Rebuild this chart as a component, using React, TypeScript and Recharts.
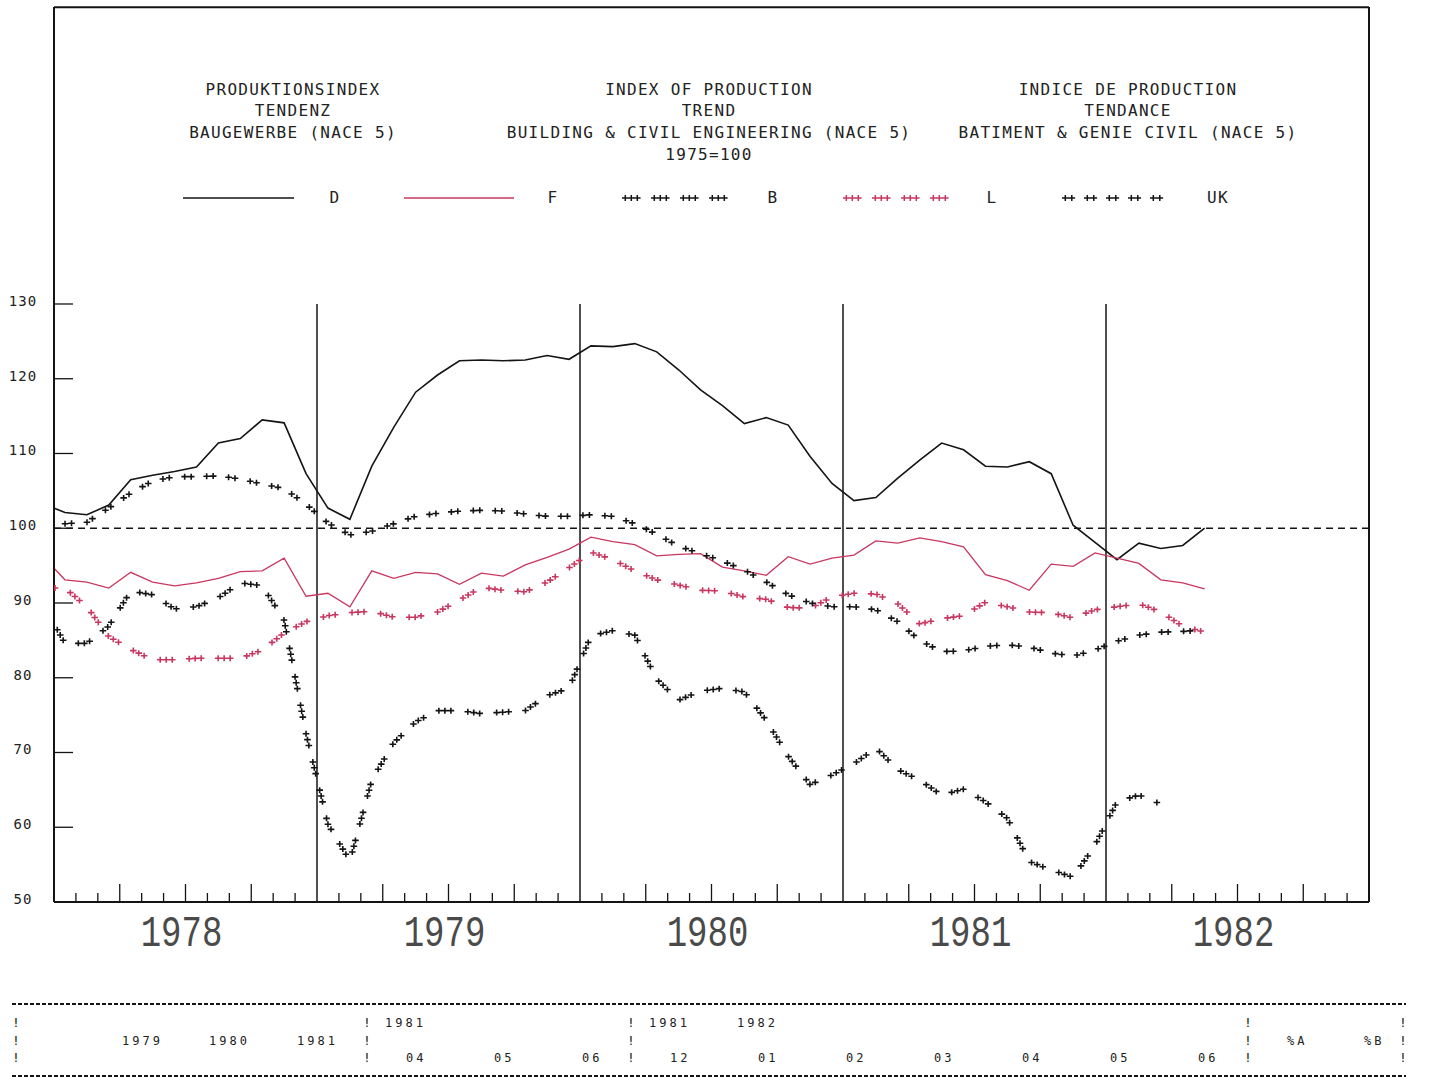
import React from 'react';
import { LineChart, Line, XAxis, YAxis, ReferenceLine, Legend } from 'recharts';

// ---------- data (monthly, Dec 1977 .. May 1982; plotted at mid-month) ----------
const D_INDEX = [
  103.3, 102.1, 101.8, 103.1, 106.5, 107.1, 107.6, 108.2, 111.4, 112.0, 114.5, 114.1, 107.3,
  102.7, 101.2, 108.3, 113.5, 118.2, 120.5, 122.4, 122.5, 122.4, 122.5, 123.1, 122.6,
  124.4, 124.3, 124.7, 123.6, 121.2, 118.5, 116.4, 114.0, 114.8, 113.8, 109.6, 106.0,
  103.7, 104.1, 106.7, 109.1, 111.4, 110.5, 108.3, 108.2, 108.9, 107.3, 100.4, 98.1,
  95.8, 98.0, 97.3, 97.7, 100.0,
];
const F_INDEX = [
  96.2, 93.1, 92.8, 92.0, 94.1, 92.8, 92.3, 92.7, 93.3, 94.2, 94.3, 96.0, 90.9,
  91.3, 89.5, 94.3, 93.3, 94.1, 93.9, 92.5, 94.0, 93.6, 95.1, 96.1, 97.2,
  98.8, 98.2, 97.8, 96.3, 96.5, 96.6, 94.8, 94.3, 93.7, 96.2, 95.2, 96.0,
  96.4, 98.3, 98.0, 98.7, 98.2, 97.5, 93.8, 93.0, 91.7, 95.2, 94.9, 96.7,
  96.0, 95.3, 93.1, 92.7, 91.9,
];
const B_INDEX = [
  89.8, 84.6, 84.6, 86.9, 91.6, 91.1, 89.2, 89.5, 90.7, 92.7, 92.3, 87.7, 72.5,
  60.4, 55.5, 66.3, 71.3, 74.1, 75.6, 75.6, 75.2, 75.4, 75.6, 77.6, 78.6,
  85.6, 86.3, 85.7, 79.8, 77.0, 78.2, 78.6, 78.1, 74.3, 69.5, 65.7, 67.0,
  68.5, 70.6, 67.7, 66.3, 64.3, 65.1, 63.4, 61.2, 55.4, 54.3, 53.3, 57.6,
  63.4, 64.3, 63.1,
];
const L_INDEX = [
  92.0, 92.0, 89.5, 85.5, 83.8, 82.4, 82.4, 82.6, 82.6, 82.6, 83.7, 86.0, 87.5,
  88.3, 88.7, 88.9, 88.1, 88.1, 88.8, 90.4, 92.1, 91.7, 91.5, 92.8, 94.7,
  96.8, 95.8, 94.3, 93.1, 92.4, 91.7, 91.6, 90.8, 90.5, 89.4, 89.3, 90.8,
  91.3, 91.2, 89.9, 87.2, 87.9, 88.3, 90.1, 89.5, 88.8, 88.7, 88.0, 89.1,
  89.5, 89.9, 88.8, 86.9, 86.1,
];
const UK_INDEX = [
  100.6, 100.6, 100.8, 102.7, 104.7, 106.3, 106.9, 106.9, 107.0, 106.6, 105.9, 105.3, 103.2,
  100.7, 99.1, 99.6, 100.6, 101.6, 102.0, 102.3, 102.4, 102.3, 101.9, 101.6, 101.6,
  101.8, 101.6, 100.6, 99.2, 97.6, 96.6, 95.6, 94.4, 92.8, 91.1, 90.0, 89.5,
  89.5, 89.1, 87.5, 85.0, 83.5, 83.6, 84.2, 84.4, 84.1, 83.3, 82.9, 83.7,
  84.9, 85.7, 86.1, 86.2, 86.4,
];

// x position of each month (months since Jan 1978, mid-month), first entry = Dec 1977
const MONTH_POS = D_INDEX.map((_, i) => i - 0.5);
const YEARS = ['1978', '1979', '1980', '1981', '1982'];
const YEAR_BOUNDARIES = [12, 24, 36, 48];
const MONTH_TICKS = Array.from({ length: 59 }, (_, i) => i + 1);
const Y_TICKS = [50, 60, 70, 80, 90, 100, 110, 120, 130];
const Y_DOMAIN: [number, number] = [50, 169.73];

const SERIES = [
  { key: 'D', values: D_INDEX },
  { key: 'F', values: F_INDEX },
  { key: 'B', values: B_INDEX },
  { key: 'L', values: L_INDEX },
  { key: 'UK', values: UK_INDEX },
];

const TABLE_DATA = MONTH_POS.map((m, i) => {
  const row: Record<string, number | undefined> = { m };
  SERIES.forEach((s) => {
    row[s.key] = s.values[i];
  });
  return row;
});

// ---------- styles ----------
const BLACK = '#141414';
const RED = '#c8375f';
const FONT = '"DejaVu Sans Mono", monospace';
const YEAR_FONT = '"Liberation Mono", monospace';

const PATTERN_B = { period: 29, offsets: [0, 6, 12] };
const PATTERN_UK = { period: 22, offsets: [0, 6.5] };

function crossD(cx: number, cy: number) {
  return `M${(cx - 3.3).toFixed(2)},${cy.toFixed(2)}h6.6M${cx.toFixed(2)},${(cy - 3).toFixed(2)}v6`;
}

function patternPoints(
  x1: number, y1: number, x2: number, y2: number,
  s0: number, period: number, offsets: number[]
) {
  const L = Math.hypot(x2 - x1, y2 - y1);
  const out: [number, number][] = [];
  if (L <= 0) return out;
  const k0 = Math.floor(s0 / period) - 1;
  const k1 = Math.floor((s0 + L) / period) + 1;
  for (let k = k0; k <= k1; k++) {
    for (const o of offsets) {
      const s = k * period + o;
      if (s >= s0 && s < s0 + L) {
        const t = (s - s0) / L;
        out.push([x1 + t * (x2 - x1), y1 + t * (y2 - y1)]);
      }
    }
  }
  return out;
}

const okPt = (p: any) => p && Number.isFinite(p.x) && Number.isFinite(p.y);

function makeCrossDot(pattern: { period: number; offsets: number[] }, color: string) {
  return (props: any) => {
    const { index, points } = props;
    const key = `x-${index}`;
    if (!points || index >= points.length - 1 || !okPt(points[index]) || !okPt(points[index + 1])) {
      return <g key={key} />;
    }
    let s0 = 0;
    for (let j = 0; j < index; j++) {
      if (okPt(points[j]) && okPt(points[j + 1])) {
        s0 += Math.hypot(points[j + 1].x - points[j].x, points[j + 1].y - points[j].y);
      }
    }
    const a = points[index];
    const b = points[index + 1];
    const pts = patternPoints(a.x, a.y, b.x, b.y, s0, pattern.period, pattern.offsets);
    if (!pts.length) return <g key={key} />;
    return (
      <path
        key={key}
        d={pts.map(([x, y]) => crossD(x, y)).join('')}
        stroke={color}
        strokeWidth={1.6}
        fill="none"
      />
    );
  };
}

// ---------- axis ticks ----------
const MonthTick = (props: any) => {
  const { x, y, payload } = props;
  const m = payload.value as number;
  const items: React.ReactNode[] = [];
  if (m % 12 !== 0) {
    const len = m % 3 === 0 ? 18 : 9;
    items.push(<line key="t" x1={x} x2={x} y1={y} y2={y - len} stroke={BLACK} strokeWidth={1.3} />);
  }
  if (m % 12 === 6) {
    const label = YEARS[(m - 6) / 12];
    items.push(
      <text
        key="y"
        transform={`translate(${x - 4},${y + 44}) scale(1,1.3)`}
        textAnchor="middle"
        fontFamily={YEAR_FONT}
        fontSize={34}
        fill="#4a4a4a"
      >
        {label}
      </text>
    );
  }
  return <g>{items}</g>;
};

const LeftTick = (props: any) => {
  const { x, y, payload } = props;
  const v = payload.value as number;
  return (
    <g>
      {v > 50 && <line x1={x} x2={x + 19} y1={y} y2={y} stroke={BLACK} strokeWidth={1.3} />}
      <text x={x - 31} y={y + 2} textAnchor="middle" fontFamily={FONT} fontSize={14} letterSpacing={1} fill="#222">
        {v}
      </text>
    </g>
  );
};

const RightTick = (props: any) => {
  const { x, y, payload } = props;
  const v = payload.value as number;
  return (
    <g>
      {v > 50 && <line x1={x - 18} x2={x} y1={y} y2={y} stroke={BLACK} strokeWidth={1.3} />}
      <text x={x + 52} y={y + 2} textAnchor="end" fontFamily={FONT} fontSize={14} letterSpacing={1} fill="#222">
        {v}
      </text>
    </g>
  );
};

// ---------- legend ----------
const LEGEND_LAYOUT: Record<string, { x1: number; x2: number; tx: number }> = {
  D: { x1: 183, x2: 294, tx: 335 },
  F: { x1: 404, x2: 514, tx: 553 },
  B: { x1: 622, x2: 732, tx: 773 },
  L: { x1: 843, x2: 953, tx: 992 },
  UK: { x1: 1062, x2: 1164, tx: 1218 },
};
const LEGEND_STYLE: Record<string, { color: string; pattern?: { period: number; offsets: number[] } }> = {
  D: { color: BLACK },
  F: { color: RED },
  B: { color: BLACK, pattern: PATTERN_B },
  L: { color: RED, pattern: PATTERN_B },
  UK: { color: BLACK, pattern: PATTERN_UK },
};

const LegendContent = (props: any) => {
  const payload = props.payload || [];
  return (
    <svg width={1439} height={36} style={{ display: 'block' }}>
      {payload.map((p: any) => {
        const name = p.value as string;
        const lay = LEGEND_LAYOUT[name];
        const st = LEGEND_STYLE[name];
        if (!lay || !st) return null;
        let swatch: React.ReactNode;
        if (st.pattern) {
          const pts = patternPoints(lay.x1 + 3.3, 18, lay.x2, 18, 0, st.pattern.period, st.pattern.offsets);
          swatch = (
            <path d={pts.map(([x, y]) => crossD(x, y)).join('')} stroke={st.color} strokeWidth={1.5} fill="none" />
          );
        } else {
          swatch = <line x1={lay.x1} x2={lay.x2} y1={18} y2={18} stroke={st.color} strokeWidth={1.5} />;
        }
        return (
          <g key={name}>
            {swatch}
            <text x={lay.tx} y={23} textAnchor="middle" fontFamily={FONT} fontSize={16} letterSpacing={1.3} fill="#222">
              {name}
            </text>
          </g>
        );
      })}
    </svg>
  );
};

// ---------- overlay texts ----------
const TITLE_BLOCKS = [
  { cx: 293, lines: ['PRODUKTIONSINDEX', 'TENDENZ', 'BAUGEWERBE (NACE 5)'] },
  { cx: 709, lines: ['INDEX OF PRODUCTION', 'TREND', 'BUILDING & CIVIL ENGINEERING (NACE 5)', '1975=100'] },
  { cx: 1128, lines: ['INDICE DE PRODUCTION', 'TENDANCE', 'BATIMENT & GENIE CIVIL (NACE 5)'] },
];
const TITLE_BASELINES = [95, 116, 138, 160];

const TABLE_BARS = [16, 367, 631, 1248, 1403];
const TABLE_ROWS = [1022, 1040, 1057];
const TABLE_TEXT: { t: string; x: number; row: number }[] = [
  { t: '1981', x: 385, row: 0 },
  { t: '1981', x: 649, row: 0 },
  { t: '1982', x: 737, row: 0 },
  { t: '1979', x: 122, row: 1 },
  { t: '1980', x: 209, row: 1 },
  { t: '1981', x: 297, row: 1 },
  { t: '%A', x: 1287, row: 1 },
  { t: '%B', x: 1364, row: 1 },
  { t: '04', x: 406, row: 2 },
  { t: '05', x: 494, row: 2 },
  { t: '06', x: 582, row: 2 },
  { t: '12', x: 670, row: 2 },
  { t: '01', x: 758, row: 2 },
  { t: '02', x: 846, row: 2 },
  { t: '03', x: 934, row: 2 },
  { t: '04', x: 1022, row: 2 },
  { t: '05', x: 1110, row: 2 },
  { t: '06', x: 1198, row: 2 },
];

const Overlay = () => (
  <svg
    width={1439}
    height={1079}
    style={{ position: 'absolute', left: 0, top: 0, pointerEvents: 'none' }}
  >
    {TITLE_BLOCKS.map((b, bi) =>
      b.lines.map((l, li) => (
        <text
          key={`${bi}-${li}`}
          x={b.cx}
          y={TITLE_BASELINES[li]}
          textAnchor="middle"
          fontFamily={FONT}
          fontSize={16}
          letterSpacing={1.3}
          fill="#222"
        >
          {l}
        </text>
      ))
    )}
    <line x1={12} x2={1406} y1={1004} y2={1004} stroke={BLACK} strokeWidth={2} strokeDasharray="4 2" />
    <line x1={12} x2={1406} y1={1076} y2={1076} stroke={BLACK} strokeWidth={2} strokeDasharray="4 2" />
    {TABLE_BARS.map((x) =>
      TABLE_ROWS.map((y) => (
        <text key={`b${x}-${y}`} x={x} y={y + 5} textAnchor="middle" fontFamily={FONT} fontSize={13} fill="#222">
          !
        </text>
      ))
    )}
    {TABLE_TEXT.map((c, i) => (
      <text
        key={`t${i}`}
        x={c.x}
        y={TABLE_ROWS[c.row] + 5}
        fontFamily={FONT}
        fontSize={12}
        letterSpacing={3}
        fill="#222"
      >
        {c.t}
      </text>
    ))}
  </svg>
);

export default function App() {
  return (
    <div style={{ position: 'absolute', left: 0, top: 0, width: 1439, height: 1079, background: '#fff' }}>
      <LineChart width={1439} height={1079} data={TABLE_DATA} margin={{ top: 7, right: 0, bottom: 0, left: 0 }}>
        <XAxis
          dataKey="m"
          type="number"
          domain={[0, 60]}
          allowDataOverflow
          ticks={MONTH_TICKS}
          interval={0}
          height={177}
          tickSize={0}
          tickMargin={0}
          tickLine={false}
          tick={(p: any) => <MonthTick {...p} />}
          axisLine={{ stroke: BLACK, strokeWidth: 2 }}
        />
        <YAxis
          type="number"
          domain={Y_DOMAIN}
          ticks={Y_TICKS}
          interval={0}
          width={54}
          tickSize={0}
          tickMargin={0}
          tickLine={false}
          tick={(p: any) => <LeftTick {...p} />}
          axisLine={{ stroke: BLACK, strokeWidth: 2 }}
        />
        <YAxis
          yAxisId="right"
          orientation="right"
          type="number"
          domain={Y_DOMAIN}
          ticks={Y_TICKS}
          interval={0}
          width={70}
          tickSize={0}
          tickMargin={0}
          tickLine={false}
          tick={(p: any) => <RightTick {...p} />}
          axisLine={{ stroke: BLACK, strokeWidth: 2 }}
        />
        {/* top border of the frame */}
        <ReferenceLine y={169.7} stroke={BLACK} strokeWidth={2} />
        <ReferenceLine y={100} stroke={BLACK} strokeWidth={1.4} strokeDasharray="7 5" />
        {YEAR_BOUNDARIES.map((m) => (
          <ReferenceLine
            key={m}
            segment={[{ x: m, y: 50 }, { x: m, y: 130 }]}
            stroke={BLACK}
            strokeWidth={1.5}
          />
        ))}
        <Line dataKey="D" name="D" type="linear" stroke={BLACK} strokeWidth={1.6} dot={false} isAnimationActive={false} />
        <Line dataKey="F" name="F" type="linear" stroke={RED} strokeWidth={1.3} dot={false} isAnimationActive={false} />
        <Line
          dataKey="B"
          name="B"
          type="linear"
          stroke="none"
          dot={makeCrossDot(PATTERN_B, BLACK)}
          isAnimationActive={false}
        />
        <Line
          dataKey="L"
          name="L"
          type="linear"
          stroke="none"
          dot={makeCrossDot(PATTERN_B, RED)}
          isAnimationActive={false}
        />
        <Line
          dataKey="UK"
          name="UK"
          type="linear"
          stroke="none"
          dot={makeCrossDot(PATTERN_UK, BLACK)}
          isAnimationActive={false}
        />
        <Legend
          layout="horizontal"
          verticalAlign="middle"
          align="center"
          content={(p: any) => <LegendContent {...p} />}
          wrapperStyle={{ position: 'absolute', top: 180, left: 0, width: 1439, height: 36, margin: 0, padding: 0 }}
        />
      </LineChart>
      <Overlay />
    </div>
  );
}
